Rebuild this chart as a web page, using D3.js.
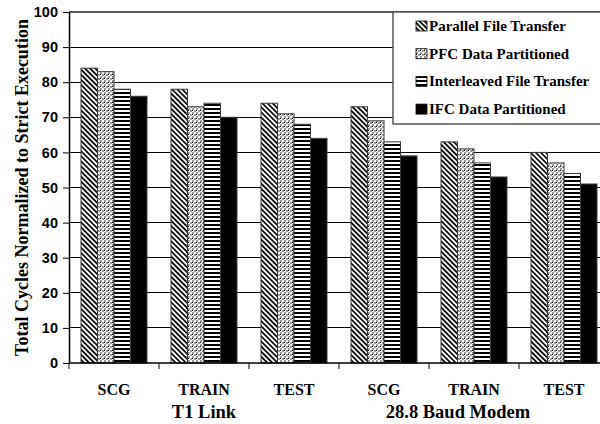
<!DOCTYPE html>
<html>
<head>
<meta charset="utf-8">
<script src="https://cdn.jsdelivr.net/npm/d3@7"></script>
<style>
  html, body { margin: 0; padding: 0; background: #fff; }
  svg { display: block; }
</style>
</head>
<body>
<svg id="chart" width="600" height="424"></svg>
<script>
const categories = ["SCG", "TRAIN", "TEST", "SCG", "TRAIN", "TEST"];
const groups = [
  { label: "T1 Link", from: 0, to: 2 },
  { label: "28.8 Baud Modem", from: 3, to: 5 }
];
const seriesNames = ["Parallel File Transfer", "PFC Data Partitioned", "Interleaved File Transfer", "IFC Data Partitioned"];
const parallelFT = [84, 78, 74, 73, 63, 60];
const pfcDP      = [83, 73, 71, 69, 61, 57];
const interleavedFT = [78, 74, 68, 63, 57, 54];
const ifcDP      = [76, 70, 64, 59, 53, 51];
const yTicks = [0, 10, 20, 30, 40, 50, 60, 70, 80, 90, 100];
const yTitle = "Total Cycles Normalized to Strict Execution";

(function () {
const seriesValues = [parallelFT, pfcDP, interleavedFT, ifcDP];
const fills = ["url(#pDiag)", "url(#pDots)", "url(#pHoriz)", "#000"];

const svg = d3.select("#chart");
svg.append("rect").attr("width", 600).attr("height", 424).attr("fill", "#fff");

// patterns
const defs = svg.append("defs");
const pd = defs.append("pattern").attr("id", "pDiag").attr("patternUnits", "userSpaceOnUse")
  .attr("width", 3.6).attr("height", 3.6).attr("patternTransform", "rotate(-45)");
pd.append("rect").attr("width", 3.6).attr("height", 3.6).attr("fill", "#fff");
pd.append("rect").attr("width", 1.8).attr("height", 3.6).attr("fill", "#111");

const pdot = defs.append("pattern").attr("id", "pDots").attr("patternUnits", "userSpaceOnUse")
  .attr("width", 4).attr("height", 4);
pdot.append("rect").attr("width", 4).attr("height", 4).attr("fill", "#fff");
pdot.append("rect").attr("x", 0).attr("y", 0).attr("width", 2).attr("height", 2).attr("fill", "#9a9a9a");
pdot.append("rect").attr("x", 2).attr("y", 2).attr("width", 2).attr("height", 2).attr("fill", "#9a9a9a");
pdot.append("rect").attr("x", 0).attr("y", 2).attr("width", 1).attr("height", 1).attr("fill", "#000");

const ph = defs.append("pattern").attr("id", "pHoriz").attr("patternUnits", "userSpaceOnUse")
  .attr("width", 4).attr("height", 4);
ph.append("rect").attr("width", 4).attr("height", 4).attr("fill", "#fff");
ph.append("rect").attr("y", 0).attr("width", 4).attr("height", 2).attr("fill", "#000");

// scales
const plotLeft = 69, plotTop = 12, plotBottom = 363;
const bandW = 90;
const x = d3.scaleBand().domain(d3.range(categories.length)).range([plotLeft, plotLeft + bandW * categories.length]).padding(0);
const xs = d3.scaleBand().domain(d3.range(seriesNames.length)).range([12, 78]).padding(0);
const y = d3.scaleLinear().domain([0, 100]).range([plotBottom, plotTop]);

// gridlines
svg.append("g").selectAll("line").data(yTicks.filter(d => d > 0)).join("line")
  .attr("x1", plotLeft).attr("x2", 600)
  .attr("y1", d => y(d)).attr("y2", d => y(d))
  .attr("stroke", d => d === 100 ? "#555" : "#000").attr("stroke-width", d => d === 100 ? 1.5 : 1)
  .attr("shape-rendering", "crispEdges");

// bars
const gBars = svg.append("g");
categories.forEach((c, i) => {
  seriesValues.forEach((vals, s) => {
    gBars.append("rect")
      .attr("x", x(i) + xs(s))
      .attr("y", y(vals[i]))
      .attr("width", xs.bandwidth())
      .attr("height", y(0) - y(vals[i]))
      .attr("fill", fills[s])
      .attr("stroke", "#3a3a3a")
      .attr("stroke-width", 1);
  });
});

// y axis
const yAxis = d3.axisLeft(y).tickValues(yTicks).tickSize(6).tickPadding(5).tickSizeOuter(0);
const ga = svg.append("g").attr("transform", `translate(${plotLeft},0)`).call(yAxis);
ga.select(".domain").attr("stroke", "#000").attr("stroke-width", 1.5);
ga.selectAll(".tick line").attr("stroke", "#000");
ga.selectAll(".tick text").attr("font-family", "Liberation Sans, Arial, sans-serif")
  .attr("font-weight", "bold").attr("font-size", 14.5).attr("fill", "#000");

// x axis
const xTickPos = d3.range(categories.length).map(i => x(i));
const gx = svg.append("g");
gx.append("line").attr("x1", plotLeft).attr("x2", 600).attr("y1", plotBottom).attr("y2", plotBottom)
  .attr("stroke", "#000").attr("stroke-width", 1.5);
gx.selectAll("line.tk").data(xTickPos).join("line").attr("class", "tk")
  .attr("x1", d => d).attr("x2", d => d).attr("y1", plotBottom).attr("y2", plotBottom + 6)
  .attr("stroke", "#000");
gx.selectAll("text.cat").data(categories).join("text").attr("class", "cat")
  .attr("x", (d, i) => x(i) + x.bandwidth() / 2).attr("y", 395)
  .attr("text-anchor", "middle")
  .attr("font-family", "Liberation Serif, Times New Roman, serif").attr("font-weight", "bold")
  .attr("font-size", 16).text(d => d);

const groupX = [204, 458];
gx.selectAll("text.grp").data(groups).join("text").attr("class", "grp")
  .attr("x", (d, i) => groupX[i]).attr("y", 418)
  .attr("text-anchor", "middle")
  .attr("font-family", "Liberation Serif, Times New Roman, serif").attr("font-weight", "bold")
  .attr("font-size", 18.5).text(d => d.label);

// y title
svg.append("text")
  .attr("transform", `translate(28,${(plotTop + plotBottom) / 2}) rotate(-90)`)
  .attr("text-anchor", "middle")
  .attr("font-family", "Liberation Serif, Times New Roman, serif").attr("font-weight", "bold")
  .attr("font-size", 18).text(yTitle);

// legend
const lg = svg.append("g");
lg.append("rect").attr("x", 393).attr("y", 12).attr("width", 220).attr("height", 112)
  .attr("fill", "#fff").attr("stroke", "#555").attr("stroke-width", 1.5);
seriesNames.forEach((name, s) => {
  const cy = 26 + s * 27.7;
  lg.append("rect").attr("x", 416).attr("y", cy - 5).attr("width", 11).attr("height", 10)
    .attr("fill", fills[s]).attr("stroke", "#000").attr("stroke-width", 0.8);
  lg.append("text").attr("x", 429).attr("y", cy + 5)
    .attr("font-family", "Liberation Serif, Times New Roman, serif").attr("font-weight", "bold")
    .attr("font-size", 15).text(name);
});
})();
</script>
</body>
</html>
